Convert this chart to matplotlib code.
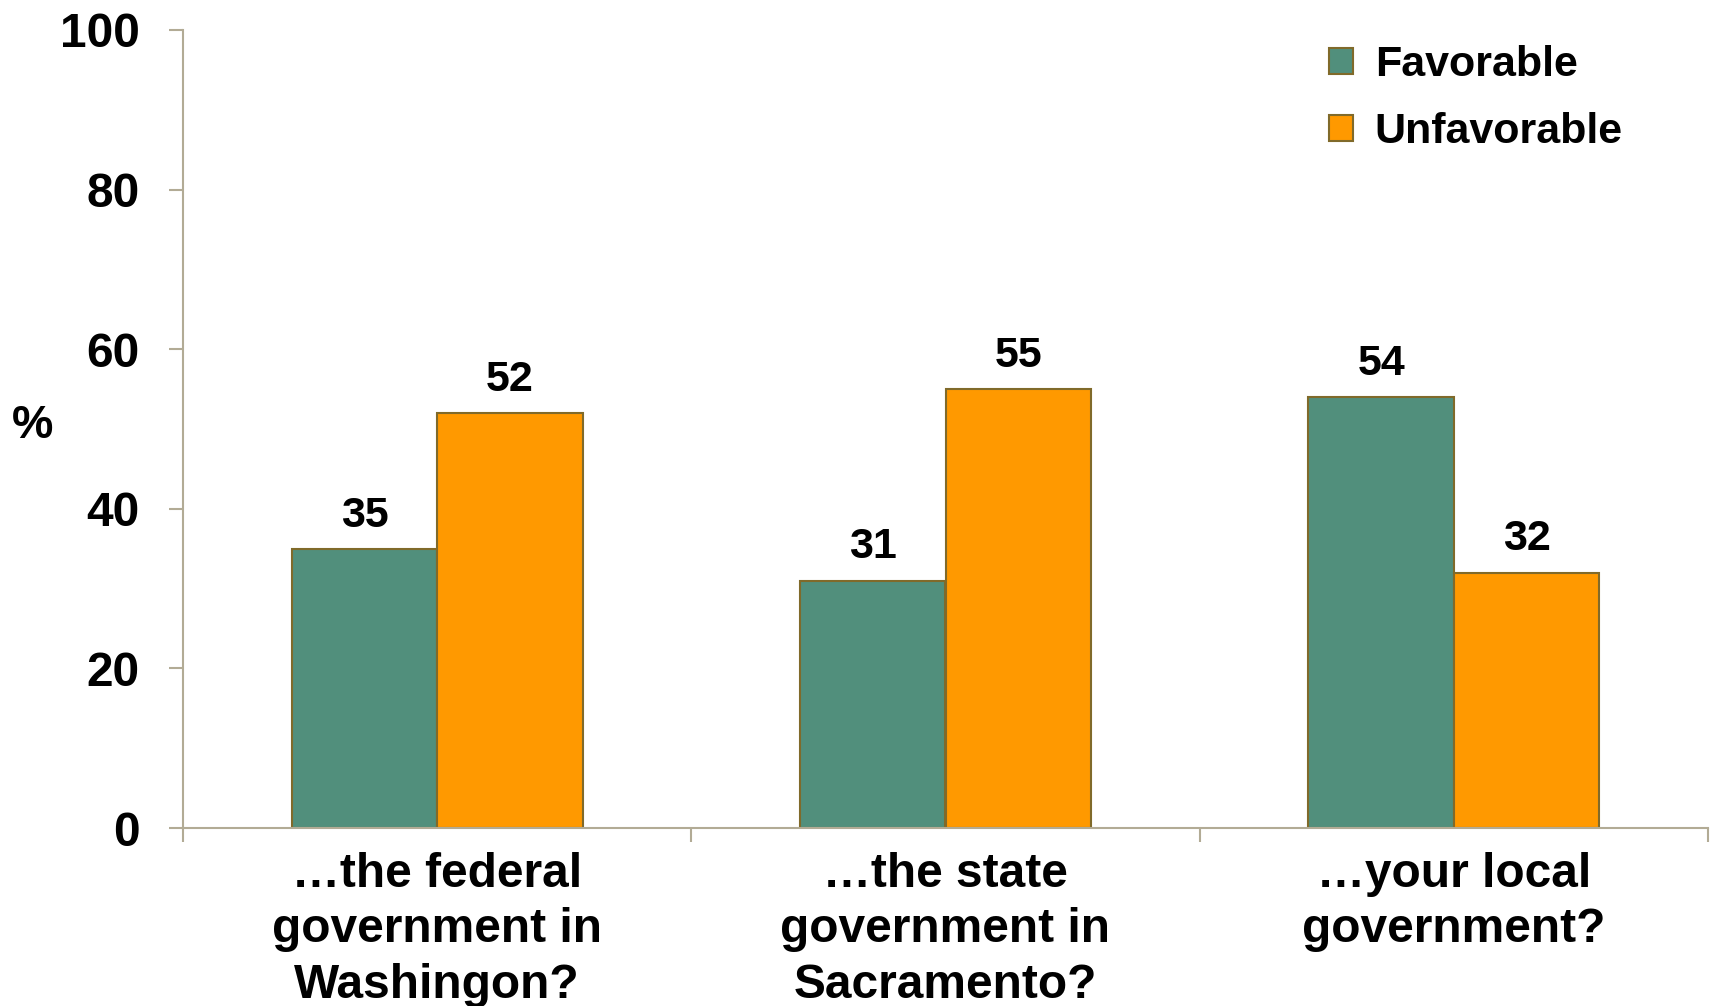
import numpy as np
import matplotlib.pyplot as plt

# PPIC-style survey chart: favorability of government levels
categories = ["\u2026the federal\ngovernment in\nWashingon?",
              "\u2026the state\ngovernment in\nSacramento?",
              "\u2026your local\ngovernment?"]
favorable = [35, 31, 54]
unfavorable = [52, 55, 32]
series_names = ["Favorable", "Unfavorable"]
yticks = [0, 20, 40, 60, 80, 100]

green = "#518F7C"
orange = "#FF9900"
edge = "#806A2A"
axis_col = "#B2AB95"

plt.rcParams['font.family'] = ['Liberation Sans', 'DejaVu Sans']
plt.rcParams['font.weight'] = 'bold'

fig = plt.figure(figsize=(17.11, 10.06), dpi=100)
ax = fig.add_axes([183/1711, 1 - 828/1006, (1708 - 183)/1711, (828 - 30)/1006])

x = np.arange(len(categories))
w = 0.286
b1 = ax.bar(x - w/2, favorable, w, color=green, edgecolor=edge, linewidth=1.5, label=series_names[0])
b2 = ax.bar(x + w/2, unfavorable, w, color=orange, edgecolor=edge, linewidth=1.5, label=series_names[1])

for bars, vals in [(b1, favorable), (b2, unfavorable)]:
    for r, v in zip(bars, vals):
        ax.annotate(str(v), (r.get_x() + r.get_width()/2, v), xytext=(0, 9.5),
                    textcoords="offset points", ha="center", va="bottom",
                    fontsize=31, fontweight="bold")

ax.set_xlim(-0.5, 2.5)
ax.set_ylim(0, 100)
ax.set_yticks(yticks)
ax.set_yticklabels([str(t) for t in yticks], fontsize=34.5, fontweight="bold")
ax.tick_params(axis="y", length=10, width=1.5, color=axis_col, pad=21)

ax.set_xticks(x)
ax.set_xticklabels(categories, fontsize=34.5, fontweight="bold", linespacing=1.3)
ax.tick_params(axis="x", which="major", length=0, pad=17)
ax.set_xticks([-0.5, 0.5, 1.5, 2.5], minor=True)
ax.tick_params(axis="x", which="minor", length=10, width=1.5, color=axis_col)

for s in ["top", "right"]:
    ax.spines[s].set_visible(False)
for s in ["left", "bottom"]:
    ax.spines[s].set_color(axis_col)
    ax.spines[s].set_linewidth(1.5)

fig.text(33/1711, 1 - 426/1006, "%", fontsize=33.5, fontweight="bold", ha="center", va="center")

ax.legend(loc="upper left", bbox_to_anchor=(1329/1711, 1 - 45/1006), bbox_transform=fig.transFigure,
          frameon=False, handlelength=0.56, handleheight=0.56,
          handletextpad=0.5, labelspacing=0.63, borderpad=0, borderaxespad=0,
          prop={"weight": "bold", "size": 31})

fig.savefig("out.png", dpi=100)
